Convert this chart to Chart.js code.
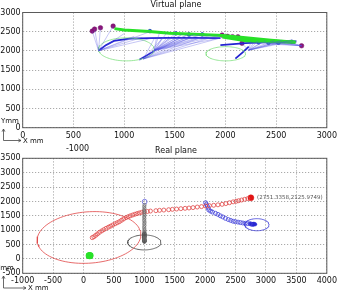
<!DOCTYPE html>
<html><head><meta charset="utf-8">
<script src="https://cdn.jsdelivr.net/npm/chart.js@4/dist/chart.umd.min.js"></script>
<style>
html,body{margin:0;padding:0;background:#fff;}
#wrap{position:relative;width:340px;height:292px;overflow:hidden;background:#fff;}
canvas{position:absolute;left:0;}
#c1{top:0;} #c2{top:142px;}
</style></head><body>
<div id="wrap"><canvas id="c1" width="340" height="146"></canvas><canvas id="c2" width="340" height="150"></canvas></div>
<script>
// ---------- tick labels ----------
const topXTicks=[0,500,1000,1500,2000,2500,3000];
const topYTicks=[0,500,1000,1500,2000,2500,3000];
const botXTicks=[-1000,-500,0,500,1000,1500,2000,2500,3000,3500,4000];
const botYTicks=[-500,0,500,1000,1500,2000,2500,3000,3500];

// ---------- Virtual plane (top) ----------
// ellipse params: [cx, cy, ax, ay, bx, by]
const greenEllipsesTop=[[1022,2040,275,0,0,300],[2003,1925,195,0,0,185]];
const greenBandUpper=[[905,2580],[1000,2545],[1250,2505],[1450,2460],[1750,2425],[1970,2400],[2200,2340],[2450,2280],[2690,2225]];
const greenBandLower=[[1970,2360],[2200,2265],[2450,2238],[2690,2228]];
const greenBandMid=[[1990,2385],[2200,2300],[2450,2258],[2690,2226]];
const bluePathA=[[748,2004],[820,2150],[900,2260],[1050,2320],[1250,2335],[1450,2340],[1700,2340],[1950,2335]];
const bluePathB=[[1950,2150],[2200,2205],[2450,2235],[2700,2245]];
const bluePathC=[[2098,1800],[2170,1960],[2230,2110]];
const bluePathD=[[1150,1770],[1300,2000]];
const fanAOrigin=[748,2004];
const fanATargets=[[686,2516],[709,2568],[767,2602],[892,2646],[1000,2450],[1100,2380],[1255,2500],[1180,2350],[1300,2345]];
const fanBOrigin=[1297,2010];
const fanBTargets=[[1320,2350],[1380,2360],[1440,2380],[1500,2390],[1560,2400],[1620,2420],[1680,2410],[1740,2420],[1800,2400],[1860,2410],[1930,2400],[1960,2340],[1510,2456],[1640,2430],[1350,2480],[1420,2470],[1580,2445],[1700,2435],[1771,2430]];
const fanCOrigin=[1190,1790];
const fanCTargets=[[1450,2340],[1550,2345],[1650,2345],[1750,2340],[1850,2340],[1950,2335],[1380,2335],[1300,2330]];
const fanDOrigin=[2230,2020];
const fanDTargets=[[2250,2250],[2320,2260],[2400,2270],[2480,2270],[2560,2280],[2640,2280],[2700,2270],[2160,2196],[2280,2222],[2360,2230],[2520,2240],[2600,2248]];
const fanEOrigin=[2751,2134];
const fanETargets=[[2300,2230],[2450,2240],[2600,2250],[2200,2210],[2380,2222],[2520,2245]];
const purpleMarks=[[686,2516],[709,2568],[767,2602],[892,2646],[1967,2412],[2020,2380],[2070,2370],[2123,2368],[2163,2200],[2751,2134]];
const tealMarks=[[1255,2516],[1510,2456],[1640,2430],[1771,2430],[2327,2222],[2425,2212],[2523,2212],[2653,2238]];

// ---------- Real plane (bottom) ----------
const redEllipse=[90,746,835,-87,173,896];
const blackEllipse=[1000,573,273,0,0,260];
const blueEllipse=[2850,1190,200,0,0,210];
const redTrackX=[143,170,200,230,263,300,335,372,410,445,481,520,555,590,625,660,699,735,770,808,845,880,917,955,998,1050,1100,1190,1250,1320,1400,1461,1530,1600,1670,1734,1800,1870,1940,2007,2070,2140,2210,2278,2340,2400,2460,2510,2551,2600,2650,2700];
const redTrackY=[741,770,820,870,926,975,1020,1065,1105,1140,1181,1225,1260,1296,1345,1390,1435,1470,1500,1528,1555,1578,1600,1620,1640,1650,1665,1678,1690,1700,1712,1725,1735,1748,1760,1771,1785,1805,1820,1840,1852,1866,1882,1898,1925,1955,1985,2005,2025,2050,2075,2100];
const redEnd=[2751.3358,2125.9749];
const blackColX=[1003,998,1002,997,1003,999,1002,998,1001,997,1003,999,1002,997,1001,999,1003,996,1002,998,1004,997,1002,999,1003,998];
const blackColY=[1880,1820,1760,1700,1640,1580,1520,1460,1400,1340,1280,1220,1160,1100,1040,980,930,880,840,800,760,720,690,660,630,600];
const blackDark=[[1000,880],[1002,800],[998,740],[1001,680],[999,640],[1003,610],[1000,850],[999,770]];
const blueStart=[1005,1990];
const blueTrackX=[2007,2020,2035,2050,2060,2090,2120,2170,2210,2250,2290,2333,2380,2420,2460,2497,2540,2580,2620,2660,2700,2740];
const blueTrackY=[1955,1900,1840,1770,1701,1660,1630,1586,1550,1500,1460,1412,1370,1340,1310,1296,1280,1265,1250,1238,1230,1222];
const blueCluster=[[2740,1225],[2770,1210],[2800,1220],[2790,1190],[2760,1200],[2820,1205],[2768,1215]];
const greenBlob=[[100,115],[95,120],[105,108],[110,118],[90,110],[100,100]];

// ---------- helpers ----------
const P=a=>a.map(p=>({x:p[0],y:p[1]}));
function ellipse(e){const out=[];for(let i=0;i<=96;i++){const t=i/96*2*Math.PI;out.push({x:e[0]+e[2]*Math.cos(t)+e[4]*Math.sin(t),y:e[1]+e[3]*Math.cos(t)+e[5]*Math.sin(t)});}return out;}
function fan(o,ts){const out=[];ts.forEach(t=>{out.push({x:o[0],y:o[1]},{x:t[0],y:t[1]},{x:null,y:null});});return out;}
function line(data,color,w,extra){return Object.assign({type:'scatter',data,showLine:true,borderColor:color,borderWidth:w,pointRadius:0,fill:false,spanGaps:false,tension:0},extra||{});}
function pts(data,r,fill,stroke,bw){return {type:'scatter',data,showLine:false,pointRadius:r,backgroundColor:fill,borderColor:stroke,borderWidth:bw};}
const F='"DejaVu Sans", sans-serif';
function axis(min,max,ticks,isX,size,pad){
  return {type:'linear',min,max,
    afterBuildTicks:s=>{s.ticks=ticks.map(v=>({value:v}));},
    afterFit:s=>{if(isX)s.height=size;else s.width=size;},
    grid:{color:'rgba(60,60,60,0.55)',lineWidth:0.8,drawTicks:false},
    border:{display:false,dash:[1.2,1.8]},
    ticks:{color:'#111',font:{family:F,size:8},padding:pad,maxRotation:0,autoSkip:false,callback:v=>String(v)}};
}
const frame={id:'frame',afterDraw(c){const a=c.chartArea,x=c.ctx;x.save();x.strokeStyle='#5a5a5a';x.lineWidth=1;x.strokeRect(a.left,a.top,a.right-a.left,a.bottom-a.top);x.restore();}};
function texts(list){return {id:'texts',afterDraw(c){const x=c.ctx;x.save();list.forEach(t=>{
  if(t.arrow){x.strokeStyle='#444';x.lineWidth=0.8;x.beginPath();x.moveTo(t.arrow[0],t.arrow[1]);x.lineTo(t.arrow[2],t.arrow[3]);x.stroke();
    const ang=Math.atan2(t.arrow[3]-t.arrow[1],t.arrow[2]-t.arrow[0]);x.beginPath();x.moveTo(t.arrow[2]-3*Math.cos(ang-0.5),t.arrow[3]-3*Math.sin(ang-0.5));x.lineTo(t.arrow[2],t.arrow[3]);x.lineTo(t.arrow[2]-3*Math.cos(ang+0.5),t.arrow[3]-3*Math.sin(ang+0.5));x.stroke();return;}
  x.fillStyle=t.c||'#111';x.font=(t.s||8)+'px '+F;x.textAlign=t.a||'center';x.textBaseline='middle';x.fillText(t.t,t.x,t.y);});x.restore();}};}
const common={responsive:false,animation:false,events:[],plugins:{legend:{display:false},tooltip:{enabled:false},title:{display:false}}};

// ---------- top chart ----------
const blueL='rgba(80,80,225,0.55)', blueD='rgb(35,35,210)', greenL='rgb(130,225,130)', greenB='rgb(40,225,40)';
new Chart(document.getElementById('c1'),{
  type:'scatter',
  data:{datasets:[
    line(fan(fanAOrigin,fanATargets),blueL,0.6),
    line(fan(fanBOrigin,fanBTargets),blueL,0.6),
    line(fan(fanCOrigin,fanCTargets),blueL,0.6),
    line(fan(fanDOrigin,fanDTargets),blueL,0.6),
    line(fan(fanEOrigin,fanETargets),blueL,0.6),
    line(ellipse(greenEllipsesTop[0]),greenL,0.8),
    line(ellipse(greenEllipsesTop[1]),greenL,0.8),
    line(P(greenBandUpper),greenB,3),
    line(P(greenBandMid),greenB,3),
    line(P(greenBandLower),greenB,3),
    line(P(bluePathA),blueD,1.8),
    line(P(bluePathB),blueD,1.8),
    line(P(bluePathC),blueD,1.8),
    line(P(bluePathD),blueD,1.5),
    pts(P(tealMarks),1.8,'rgb(40,170,170)','rgb(30,60,180)',0.8),
    pts(P(purpleMarks),2.3,'rgb(140,20,120)','rgb(110,20,110)',0.5)
  ]},
  options:Object.assign({},common,{layout:{padding:{top:12.5,right:11,left:0,bottom:0}},
    scales:{x:axis(0,3000,topXTicks,true,18.3,3),y:axis(0,3000,topYTicks,false,22.7,2)}}),
  plugins:[frame,texts([
    {t:'Virtual plane',x:176,y:5,s:8},
    {t:'Ymm',x:1,y:121.5,s:7,a:'left'},
    {arrow:[3.5,140.5,3.5,129]},
    {arrow:[3.5,140.5,21,140.5]},
    {t:'X mm',x:23,y:141.5,s:7,a:'left'}
  ])]
});

// ---------- bottom chart ----------
const redC='rgb(225,70,70)';
const redTrack=redTrackX.map((v,i)=>({x:v,y:redTrackY[i]}));
const blackCol=blackColX.map((v,i)=>({x:v,y:blackColY[i]}));
const blueTrack=blueTrackX.map((v,i)=>({x:v,y:blueTrackY[i]}));
new Chart(document.getElementById('c2'),{
  type:'scatter',
  data:{datasets:[
    line(ellipse(redEllipse),redC,0.8),
    line(ellipse(blackEllipse),'rgb(70,70,70)',0.8),
    line(ellipse(blueEllipse),'rgb(60,60,215)',0.8),
    pts(P(greenBlob),3.3,'rgb(40,225,40)','rgb(40,225,40)',0),
    pts(blackCol,1.6,'rgba(0,0,0,0)','rgb(110,110,110)',0.8),
    pts(P(blackDark),1.8,'rgb(30,30,30)','rgb(20,20,20)',0.6),
    pts([{x:blueStart[0],y:blueStart[1]}],2.4,'rgba(0,0,0,0)','rgb(90,90,220)',0.8),
    pts(redTrack,2,'rgba(0,0,0,0)',redC,0.8),
    pts([{x:redEnd[0],y:redEnd[1]}],3,'rgb(225,20,20)','rgb(225,20,20)',0.5),
    pts(blueTrack,2,'rgba(0,0,0,0)','rgb(70,70,220)',0.8),
    pts(P(blueCluster),1.8,'rgb(40,40,210)','rgb(40,40,210)',0.5)
  ]},
  options:Object.assign({},common,{layout:{padding:{top:16.3,right:11,left:0,bottom:0}},
    scales:{x:axis(-1000,4000,botXTicks,true,18.7,3),y:axis(-500,3500,botYTicks,false,22.7,2)}}),
  plugins:[frame,texts([
    {t:'Real plane',x:176,y:9,s:8},
    {t:'-1000',x:77.5,y:7,s:8},
    {t:'('+redEnd[0]+','+redEnd[1]+')',x:257,y:55.5,s:5.5,a:'left',c:'#555'},
    {t:'Ymm',x:-4,y:126.5,s:7,a:'left'},
    {arrow:[3.5,146,3.5,134]},
    {arrow:[3.5,146,26,146]},
    {t:'X mm',x:28,y:146,s:7,a:'left'}
  ])]
});
</script>
</body></html>
